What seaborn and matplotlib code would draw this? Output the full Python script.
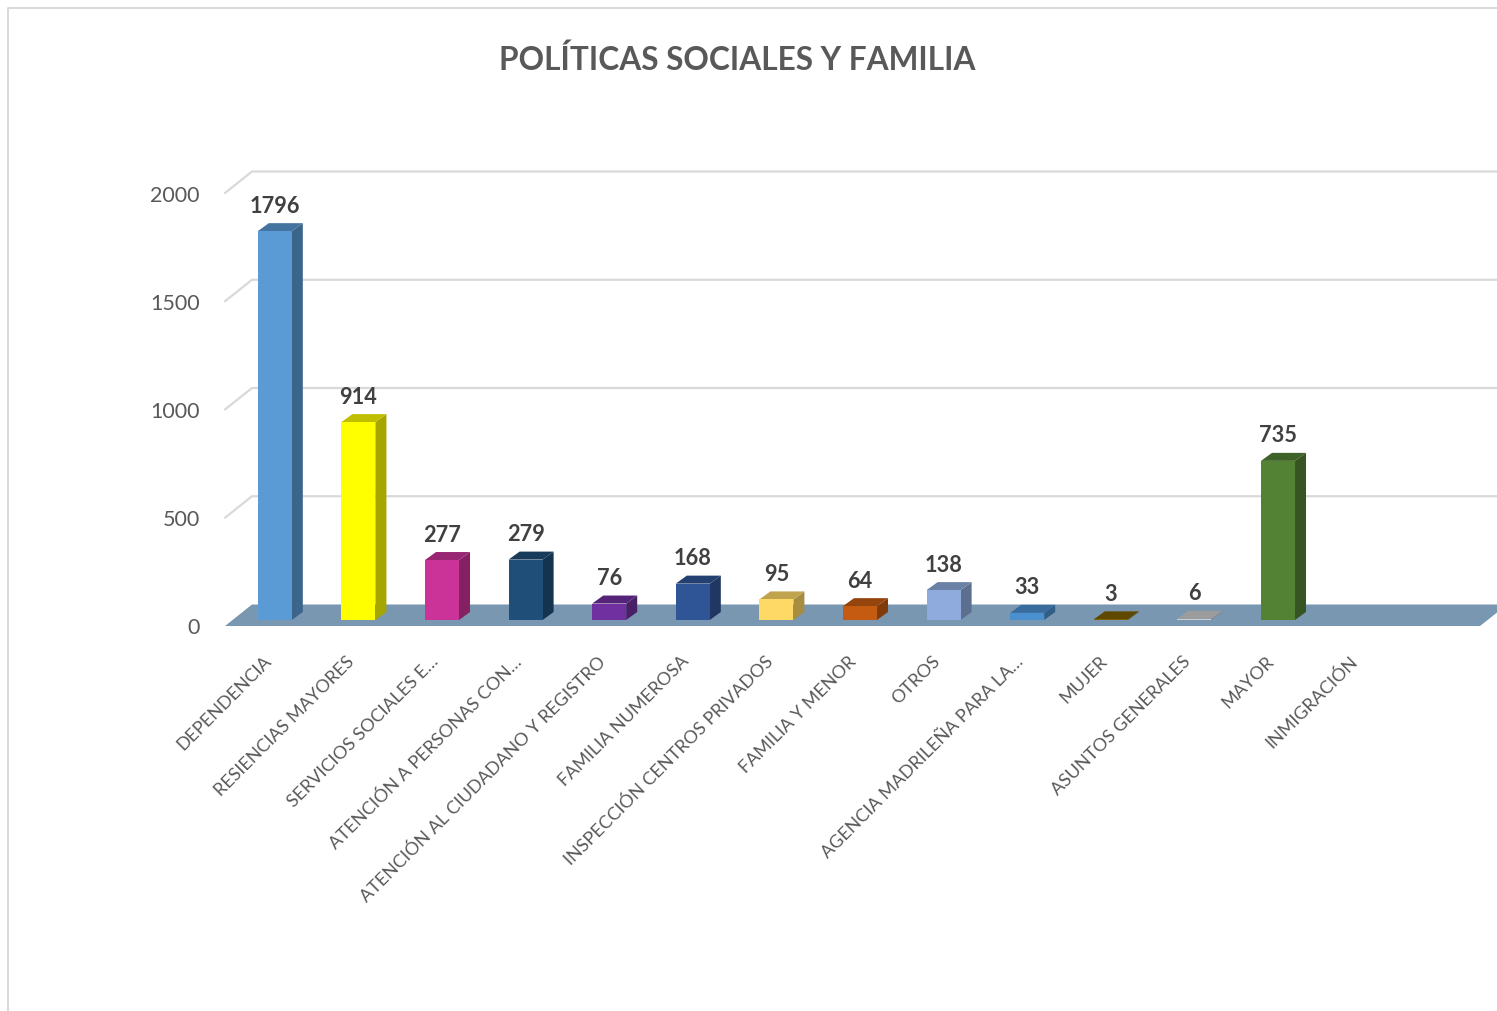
import matplotlib
matplotlib.use("Agg")
import matplotlib.pyplot as plt
from matplotlib.colors import to_rgb
from matplotlib.lines import Line2D
from matplotlib.transforms import ScaledTranslation
import numpy as np
import pandas as pd
import seaborn as sns

categories = [
    "DEPENDENCIA", "RESIENCIAS MAYORES", "SERVICIOS SOCIALES E…",
    "ATENCIÓN A PERSONAS CON…", "ATENCIÓN AL CIUDADANO Y REGISTRO",
    "FAMILIA NUMEROSA", "INSPECCIÓN CENTROS PRIVADOS", "FAMILIA Y MENOR",
    "OTROS", "AGENCIA MADRILEÑA PARA LA…", "MUJER", "ASUNTOS GENERALES",
    "MAYOR", "INMIGRACIÓN",
]
values = [1796, 914, 277, 279, 76, 168, 95, 64, 138, 33, 3, 6, 735, np.nan]
colors = [
    "#5B9BD5", "#FFFF00", "#CC3399", "#1F4E79", "#7030A0", "#2F5597", "#FFD966",
    "#C55A11", "#8FAADC", "#4A90D0", "#7F6000", "#D0D0D0", "#548235", "#9DC3E6",
]
y_ticks = [0, 500, 1000, 1500, 2000]
title = "POLÍTICAS SOCIALES Y FAMILIA"

W, H = 1497, 1012
LEFT, RIGHT, BASE, TOP = 233, 1487, 621, 188
SLOTS = 15  # one empty slot is kept on the right of the last category

sns.set_theme(style="white")
plt.rcParams["font.family"] = ["Lato", "DejaVu Sans"]

fig = plt.figure(figsize=(W / 100, H / 100), dpi=100, facecolor="white")
ax = fig.add_axes([LEFT / W, 1 - BASE / H, (RIGHT - LEFT) / W, (BASE - TOP) / H])

df = pd.DataFrame({"categoria": categories, "valor": values})
sns.barplot(
    data=df, x="categoria", y="valor", hue="categoria", order=categories,
    hue_order=categories, palette=dict(zip(categories, colors)), width=0.407,
    dodge=False, legend=False, saturation=1, linewidth=0, ax=ax, zorder=4,
)
ax.set_xlim(-0.5, SLOTS - 0.5)
ax.set_ylim(0, 2000)

# Pixel distances expressed in data units, for the pseudo-3D depth
px_x = SLOTS / (RIGHT - LEFT)
px_y = 2000 / (BASE - TOP)
depth_x, depth_y = 11 * px_x, 8 * px_y
half = 0.407 / 2
x0, x1 = ax.get_xlim()


def shade(color, factor):
    return tuple(c * factor for c in to_rgb(color))


# Back wall gridlines with their slanted segments on the side wall
grid = "#D9D9D9"
for v in y_ticks[1:]:
    ax.plot([x0 - 8 * px_x, x0 + 19 * px_x, x1 + 10 * px_x],
            [v - 6 * px_y, v + 15.5 * px_y, v + 15.5 * px_y],
            color=grid, lw=1.6, clip_on=False, zorder=1, solid_joinstyle="miter")

# Floor of the chart
ax.fill([x0 - 8 * px_x, x0 + 19 * px_x, x1 + 12 * px_x, x1 + 12 * px_x, x1 - 7 * px_x],
        [-6 * px_y, 15.5 * px_y, 15.5 * px_y, 9 * px_y, -6 * px_y],
        color="#7A97B2", clip_on=False, zorder=2, lw=0)

# Side and top faces of each column, and the value above it
for i, (v, c) in enumerate(zip(values, colors)):
    if np.isnan(v):
        continue
    right, left = i + half, i - half
    ax.fill([right, right + depth_x, right + depth_x, right],
            [0, depth_y, v + depth_y, v],
            color=shade(c, 0.65), clip_on=False, zorder=3, lw=0)
    ax.fill([left, right, right + depth_x, left + depth_x],
            [v, v, v + depth_y, v + depth_y],
            color=shade(c, 0.75), clip_on=False, zorder=3, lw=0)
    ax.annotate(f"{v:.0f}", (i, v), xytext=(0, 26 * 0.72), textcoords="offset points",
                ha="center", va="center", fontsize=15.7, fontweight="bold",
                color="#404040", annotation_clip=False, zorder=6)

ax.set_yticks(y_ticks)
ax.set_xlabel("")
ax.set_ylabel("")
ax.tick_params(axis="y", length=0, pad=24, labelsize=15.5, labelcolor="#595959")
ax.tick_params(axis="x", length=0, pad=23.3, labelsize=13, labelcolor="#595959")
shift_y = ScaledTranslation(0, -0.055, fig.dpi_scale_trans)
shift_x = ScaledTranslation(-0.12, 0, fig.dpi_scale_trans)
for lab in ax.get_yticklabels():
    lab.set_transform(lab.get_transform() + shift_y)
for lab in ax.get_xticklabels():
    lab.set_rotation(45)
    lab.set_ha("right")
    lab.set_rotation_mode("anchor")
    lab.set_transform(lab.get_transform() + shift_x)
sns.despine(ax=ax, left=True, bottom=True)
ax.patch.set_alpha(0)

fig.text(737 / W, 1 - 60 / H, title, ha="center", va="center", fontsize=22.8,
         fontweight="bold", color="#595959")

# Thin chart-area border along the top and left edges
fig.add_artist(Line2D([8 / W, 8 / W, 1], [0, 1 - 9 / H, 1 - 9 / H], color=grid, lw=1.4))

fig.savefig("out.png", dpi=100)
